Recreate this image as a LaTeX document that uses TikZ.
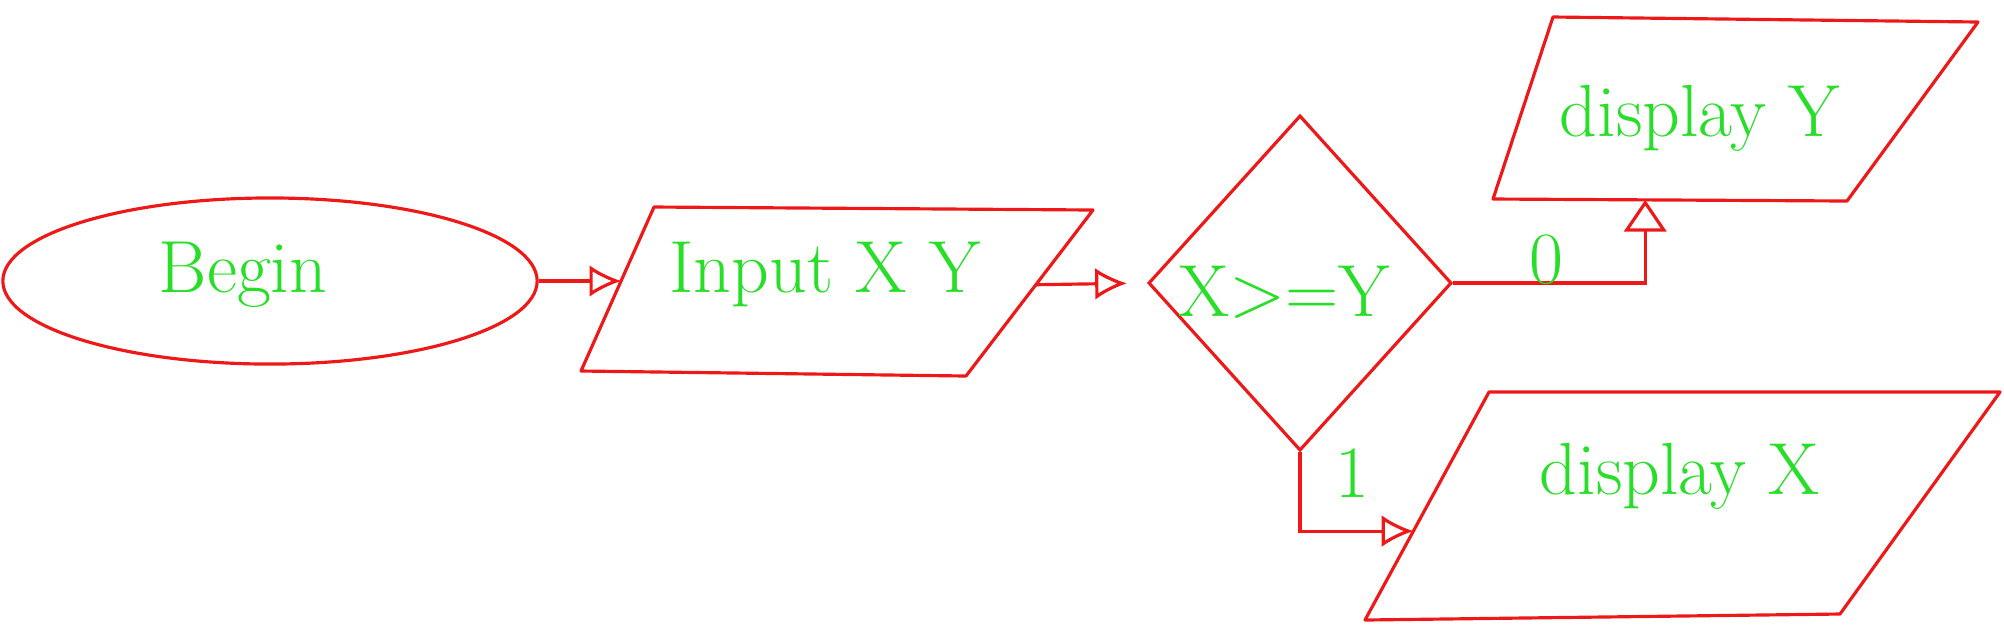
\documentclass[tikz,border=0pt]{standalone}
\usepackage{fontspec}
\usetikzlibrary{shapes.geometric,arrows.meta,calc}
\definecolor{pen}{RGB}{238,24,24}
\definecolor{ink}{RGB}{40,222,40}
\begin{document}
\begin{tikzpicture}[x=0.01cm,y=-0.01cm,
  shp/.style={draw=pen,line width=0.9pt,inner sep=0pt},
  outline/.style={draw=pen,line width=0.9pt,line join=round},
  txt/.style={text=ink,font=\fontsize{21}{25}\selectfont},
  arr/.style={draw=pen,line width=0.9pt,-{Latex[open,length=9pt,width=9pt]}},
  tri/.style={draw=pen,line width=0.9pt,-{Triangle[open,length=9pt,width=12pt]}}]
\useasboundingbox (0,0) rectangle (2004,626);
% terminal and decision
\node[shp,ellipse,minimum width=5.34cm,minimum height=1.66cm] (b) at (270,281) {};
\node[shp,diamond,minimum width=3.03cm,minimum height=3.35cm] (d) at (1300,283) {};
% input parallelogram
\coordinate (iTL) at (654,207); \coordinate (iTR) at (1093,210);
\coordinate (iBR) at (966,376); \coordinate (iBL) at (581,371);
\draw[outline] (iTL) -- (iTR) -- (iBR) -- (iBL) -- cycle;
% display Y parallelogram
\coordinate (yTL) at (1553,17); \coordinate (yTR) at (1978,22);
\coordinate (yBR) at (1847,201); \coordinate (yBL) at (1493,199);
\draw[outline] (yTL) -- (yTR) -- (yBR) -- (yBL) -- cycle;
% display X parallelogram
\coordinate (xTL) at (1489,392); \coordinate (xTR) at (2000,392);
\coordinate (xBR) at (1840,614); \coordinate (xBL) at (1365,620);
\draw[outline] (xTL) -- (xTR) -- (xBR) -- (xBL) -- cycle;
% texts
\node[txt] (bt) at (243,275) {Begin};
\node[txt] (it) at (825,274) {Input X Y};
\node[txt] (dtx) at (1284,292) {X>=Y};
\node[txt] (yt) at (1700,118) {display Y};
\node[txt] (xt) at (1680,476) {display X};
% connectors
\coordinate (iW) at ($(iTL)!0.45!(iBL)$);
\coordinate (iE) at ($(iTR)!0.45!(iBR)$);
\draw[arr] (b.east) -- (b.east -| iW);
\draw[arr,shorten >=0.2cm] (iE) -- (d.west);
\coordinate (yin) at ($(yBL)!0.43!(yBR)$);
\draw[tri] (d.east) -| (yin);
\node[txt] (zero) at (1546,260) {0};
\coordinate (xin) at ($(xBL)!0.39!(xTL)$);
\draw[arr] (d.south) |- (xin);
\node[txt] (one) at (1352,473) {1};
\end{tikzpicture}
\end{document}
